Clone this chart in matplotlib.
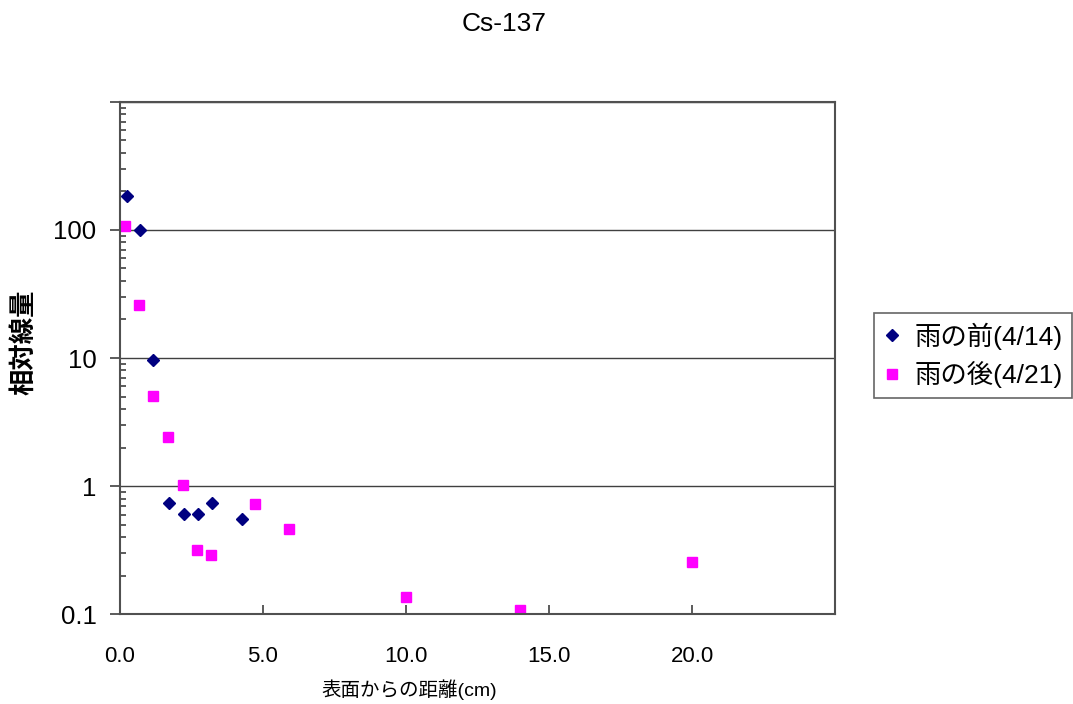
import numpy as np
import matplotlib.pyplot as plt
from matplotlib.ticker import FixedLocator, LogLocator, NullFormatter

plt.rcParams['font.family'] = ['Liberation Sans', 'Noto Sans CJK JP', 'DejaVu Sans']

title = "Cs-137"
label_before = "雨の前(4/14)"
label_after = "雨の後(4/21)"
xlabel = "表面からの距離(cm)"
ylabel = "相対線量"

# values
x_before = [0.23, 0.70, 1.17, 1.73, 2.23, 2.72, 3.22, 4.27]
y_before = [184, 99, 9.6, 0.74, 0.61, 0.61, 0.74, 0.55]
x_after = [0.18, 0.68, 1.15, 1.69, 2.20, 2.69, 3.19, 4.71, 5.92, 10.0, 13.98, 20.0]
y_after = [107, 25.8, 5.05, 2.44, 1.02, 0.316, 0.289, 0.72, 0.465, 0.136, 0.109, 0.255]

x_ticks = [0, 5, 10, 15, 20]
y_ticks = [0.1, 1, 10, 100, 1000]
y_ticklabels = ["0.1", "1", "10", "100", ""]

W, H = 1073, 704
fig = plt.figure(figsize=(W / 100, H / 100), dpi=100)
ax = fig.add_axes([120 / W, 1 - 614.3 / H, (835 - 120) / W, (614.3 - 101.7) / H])

ax.plot(x_before, y_before, linestyle="none", marker="D", markersize=5.8,
        color="#000080", label=label_before)
ax.plot(x_after, y_after, linestyle="none", marker="s", markersize=7,
        color="#FF00FF", label=label_after)

ax.set_yscale("log")
ax.set_xlim(0, 25)
ax.set_ylim(0.1, 1000)

ax.xaxis.set_major_locator(FixedLocator(x_ticks))
ax.set_xticklabels([f"{v:.1f}" for v in x_ticks])
ax.yaxis.set_major_locator(FixedLocator(y_ticks))
ax.set_yticklabels(y_ticklabels)
ax.yaxis.set_minor_locator(LogLocator(base=10, subs=np.arange(2, 10)))
ax.yaxis.set_minor_formatter(NullFormatter())

for lab in ax.get_xticklabels():
    lab.set_family(['Liberation Sans Narrow', 'Liberation Sans'])

ax.tick_params(axis="x", which="major", direction="in", length=6.5, width=1.2,
               color="#404040", labelsize=16, pad=23)
ax.tick_params(axis="y", which="major", direction="out", length=7, width=1.2,
               color="#404040", labelsize=18.5, pad=10)
ax.tick_params(axis="y", which="minor", direction="in", length=4.5, width=1.2,
               color="#404040")

ax.grid(True, axis="y", which="major", color="#404040", linewidth=1.0)
for s in ax.spines.values():
    s.set_color("#505050")
    s.set_linewidth(1.5)

fig.text(504 / W, 1 - 23.7 / H, title, ha="center", va="center", fontsize=19)
fig.text(24 / W, 1 - 342 / H, ylabel, ha="center", va="center", rotation=90,
         fontsize=19, fontweight="bold")
fig.text(409 / W, 1 - 690 / H, xlabel, ha="center", va="center", fontsize=14)

leg = fig.legend(loc="upper left", bbox_to_anchor=(874 / W, 1 - 313 / H),
                 fontsize=19, frameon=True, fancybox=False, borderaxespad=0,
                 handlelength=0.7, handletextpad=0.5, borderpad=0.35,
                 labelspacing=0.45)
leg.get_frame().set_edgecolor("#404040")
leg.get_frame().set_linewidth(1.2)

fig.savefig("out.png", dpi=100)
